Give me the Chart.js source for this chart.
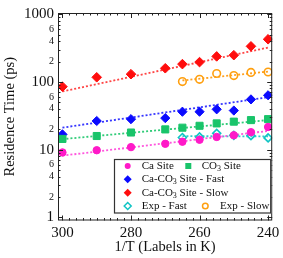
<!DOCTYPE html>
<html>
<head>
<meta charset="utf-8">
<script src="https://cdn.jsdelivr.net/npm/chart.js@4.4.0/dist/chart.umd.min.js"></script>
<style>
  html, body { margin: 0; padding: 0; background: #fff; }
</style>
</head>
<body>
<canvas id="chartRes" width="283" height="258"></canvas>
<script>
// Dados (ps)
const temps = [300, 290, 280, 270, 265, 260, 255, 250, 245, 240];
const caSite = [9.1, 9.8, 10.9, 12.2, 13.1, 14.0, 15.4, 16.3, 18.1, 21.6];
const co3Site = [14.4, 15.9, 17.9, 19.9, 21.1, 22.5, 24.4, 25.9, 27.3, 28.2];
const caCo3Fast = [16.8, 26.5, 28.2, 29.2, 36.3, 36.3, 39.4, 37.8, 55.2, 63.5];
const caCo3Slow = [85, 117, 130, 159, 183, 196, 238, 248, 335, 426];

const expTemps = [265, 260, 255, 250, 245, 240];
const expFast = [15.1, 15.4, 17.4, 16.3, 16.1, 14.9];
const expSlow = [101, 109, 133, 124, 138, 140];

// Ajustes (pontos extremos das retas pontilhadas)
const fitTemps = [300, 240];
const caFit = [8.15, 18.9];
const co3Fit = [14.3, 27.3];
const fastFit = [21.1, 59.5];
const slowFit = [72.3, 321];
const expFitTemps = [265, 240];
const expFastFit = [15.8, 15.7];
const expSlowFit = [105, 142];

// Rótulos dos eixos
const xTicks = [300, 280, 260, 240];
const xTickLabels = ['300', '280', '260', '240'];
const yTicks = [1, 2, 4, 6, 10, 20, 40, 60, 100, 200, 400, 600, 1000];
const yTickLabels = ['1', '2', '4', '6', '10', '2', '4', '6', '100', '2', '4', '6', '1000'];
const yMajor = [1, 10, 100, 1000];

const SERIF = "'Liberation Serif', 'Times New Roman', serif";
const cMag = '#ff19c8', cGreen = '#19c46a', cBlue = '#0a0aff', cRed = '#ff0d0d', cCyan = '#10c4c4', cOrange = '#ffa010';

const pts = (xs, ys) => xs.map((x, i) => ({ x: x, y: ys[i] }));

function marks(label, xs, ys, style, color, r, open) {
  return {
    label: label, data: pts(xs, ys), showLine: false, order: 0,
    pointStyle: style, pointRadius: r,
    pointBorderWidth: open ? 1.6 : 1,
    pointBorderColor: color,
    pointBackgroundColor: open ? 'rgba(0,0,0,0)' : color
  };
}
function fit(xs, ys, color) {
  return {
    data: pts(xs, ys), showLine: true, order: 1,
    borderColor: color, borderWidth: 1.8, borderDash: [2, 2], pointRadius: 0
  };
}

function drawMark(ctx, style, x, y, r, color, open) {
  ctx.save();
  ctx.beginPath();
  if (style === 'circle') ctx.arc(x, y, r, 0, Math.PI * 2);
  else if (style === 'rect') ctx.rect(x - r, y - r, 2 * r, 2 * r);
  else { ctx.moveTo(x - r, y); ctx.lineTo(x, y - r); ctx.lineTo(x + r, y); ctx.lineTo(x, y + r); ctx.closePath(); }
  if (open) { ctx.lineWidth = 1.5; ctx.strokeStyle = color; ctx.stroke(); }
  else { ctx.fillStyle = color; ctx.fill(); }
  ctx.restore();
}

// texto com subscrito "3" em CO3
function drawLabel(ctx, x, y, parts) {
  let cx = x;
  parts.forEach(p => {
    ctx.font = (p.sub ? '8px ' : '11px ') + SERIF;
    ctx.fillText(p.t, cx, y + (p.sub ? 3 : 0));
    cx += ctx.measureText(p.t).width;
  });
}

const framePlugin = {
  id: 'frame',
  afterDatasetsDraw(chart) {
    const { ctx, chartArea: a, scales: { x, y } } = chart;
    ctx.save();
    ctx.strokeStyle = '#222';
    ctx.lineWidth = 1;
    ctx.strokeRect(a.left + 0.5, a.top + 0.5, a.right - a.left - 1, a.bottom - a.top - 1);
    ctx.beginPath();
    for (let t = 240; t <= 300; t += 2) {
      const px = Math.round(x.getPixelForValue(t)) + 0.5;
      const len = t % 20 === 0 ? 5 : 2.5;
      ctx.moveTo(px, a.bottom); ctx.lineTo(px, a.bottom - len);
      ctx.moveTo(px, a.top); ctx.lineTo(px, a.top + len);
    }
    for (let d = 1; d <= 1000; d *= 10) {
      for (let k = 1; k <= (d === 1000 ? 1 : 9); k++) {
        const py = Math.round(y.getPixelForValue(d * k)) + 0.5;
        const len = k === 1 ? 5 : 2.5;
        ctx.moveTo(a.left, py); ctx.lineTo(a.left + len, py);
        ctx.moveTo(a.right, py); ctx.lineTo(a.right - len, py);
      }
    }
    ctx.stroke();

    // Legenda
    const L = 114, T = 159, R = a.right - 1, B = 213.5;
    ctx.fillStyle = '#fff';
    ctx.fillRect(L, T, R - L, B - T);
    ctx.strokeStyle = '#333';
    ctx.lineWidth = 1.2;
    ctx.strokeRect(L + 0.5, T + 0.5, R - L - 1, B - T - 1);
    ctx.fillStyle = '#111';
    ctx.textBaseline = 'middle';
    const rows = [166, 179.3, 192.7, 206];
    drawMark(ctx, 'circle', 127.7, rows[0], 3, cMag, false);
    drawLabel(ctx, 141.7, rows[0], [{ t: 'Ca Site' }]);
    drawMark(ctx, 'rect', 188.3, rows[0], 3, cGreen, false);
    drawLabel(ctx, 201.7, rows[0], [{ t: 'CO' }, { t: '3', sub: true }, { t: ' Site' }]);
    drawMark(ctx, 'diamond', 127.7, rows[1], 4, cBlue, false);
    drawLabel(ctx, 141.7, rows[1], [{ t: 'Ca-CO' }, { t: '3', sub: true }, { t: ' Site - Fast' }]);
    drawMark(ctx, 'diamond', 127.7, rows[2], 4, cRed, false);
    drawLabel(ctx, 141.7, rows[2], [{ t: 'Ca-CO' }, { t: '3', sub: true }, { t: ' Site - Slow' }]);
    drawMark(ctx, 'diamond', 127.7, rows[3], 3.5, cCyan, true);
    drawLabel(ctx, 141.7, rows[3], [{ t: 'Exp - Fast' }]);
    drawMark(ctx, 'circle', 205.3, rows[3], 2.8, cOrange, true);
    drawLabel(ctx, 220, rows[3], [{ t: 'Exp - Slow' }]);
    ctx.restore();
  }
};

new Chart(document.getElementById('chartRes'), {
  type: 'scatter',
  data: {
    datasets: [
      marks('Ca Site', temps, caSite, 'circle', cMag, 3.7, false),
      marks('CO3 Site', temps, co3Site, 'rect', cGreen, 5, false),
      marks('Ca-CO3 Site - Fast', temps, caCo3Fast, 'rectRot', cBlue, 4.6, false),
      marks('Ca-CO3 Site - Slow', temps, caCo3Slow, 'rectRot', cRed, 4.8, false),
      marks('Exp - Fast', expTemps, expFast, 'rectRot', cCyan, 4, true),
      marks('Exp - Slow', expTemps, expSlow, 'circle', cOrange, 3.8, true),
      fit(fitTemps, caFit, '#ff55dd'),
      fit(fitTemps, co3Fit, '#30cc78'),
      fit(fitTemps, fastFit, '#3535ff'),
      fit(fitTemps, slowFit, '#ff4545'),
      fit(expFitTemps, expFastFit, '#30cccc'),
      fit(expFitTemps, expSlowFit, '#ffa020')
    ]
  },
  options: {
    responsive: false,
    animation: false,
    events: [],
    layout: { padding: { top: 4, right: 8, left: 0, bottom: 0 } },
    plugins: { legend: { display: false }, tooltip: { enabled: false } },
    scales: {
      x: {
        type: 'linear', reverse: true, min: 238.8, max: 301.3,
        grid: { display: false, drawTicks: false },
        border: { display: false },
        afterBuildTicks: s => { s.ticks = xTicks.map(v => ({ value: v })); },
        afterFit: s => { s.height = 37.5; },
        ticks: {
          autoSkip: false, maxRotation: 0, padding: 3.5, color: '#111',
          font: { family: SERIF, size: 15 },
          callback: (v, i) => xTickLabels[i]
        },
        title: {
          display: true, text: '1/T (Labels in K)', color: '#111',
          font: { family: SERIF, size: 14.5 }, padding: { top: 0, bottom: 2.6 }
        }
      },
      y: {
        type: 'logarithmic', min: 0.9, max: 1040,
        grid: { display: false, drawTicks: false },
        border: { display: false },
        afterBuildTicks: s => { s.ticks = yTicks.map(v => ({ value: v })); },
        afterFit: s => { s.width = 58; },
        ticks: {
          autoSkip: false, padding: 4, color: '#111',
          font: c => ({ family: SERIF, size: c.tick && yMajor.includes(c.tick.value) ? 15 : 10 }),
          callback: (v, i) => yTickLabels[i]
        },
        title: {
          display: true, text: 'Residence Time (ps)', color: '#111',
          font: { family: SERIF, size: 14.5 }, padding: { top: 1.3, bottom: 0 }
        }
      }
    }
  },
  plugins: [framePlugin]
});
</script>
</body>
</html>
